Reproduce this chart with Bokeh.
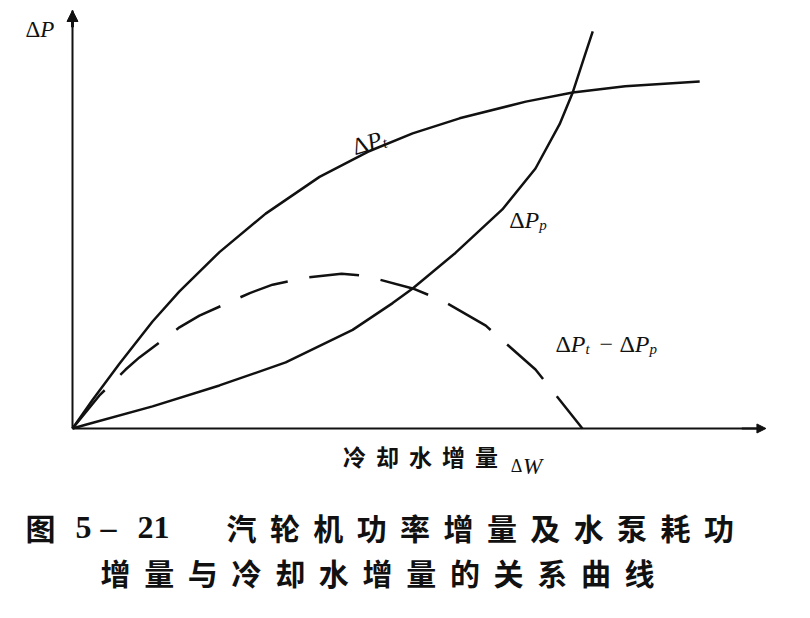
import math

from bokeh.plotting import figure
from bokeh.models import Range1d, Label, Arrow, NormalHead
from bokeh.embed import file_html
from bokeh.resources import INLINE

# values (arbitrary units, both axes drawn 0..10)
PT_W = [0, 0.29, 0.68, 1.16, 1.55, 2.13, 2.80, 3.58, 4.28, 4.93, 5.61, 6.57, 7.25, 8.01, 9.09]
PT_P = [0, 0.68, 1.55, 2.56, 3.28, 4.22, 5.14, 6.02, 6.62, 7.06, 7.42, 7.82, 8.04, 8.19, 8.30]

PP_W = [0, 0.19, 1.16, 2.13, 3.09, 4.06, 4.64, 4.93, 5.55, 6.23, 6.71, 7.06, 7.25, 7.43, 7.54]
PP_P = [0, 0.09, 0.53, 1.03, 1.58, 2.36, 3.00, 3.35, 4.20, 5.24, 6.22, 7.28, 8.04, 8.95, 9.50]

DIFF_W = [0, 0.39, 0.77, 0.97, 1.55, 1.84, 2.57, 2.90, 3.38, 3.90, 4.25, 4.93, 5.36, 5.99, 6.71, 7.39]
DIFF_P = [0, 0.79, 1.41, 1.70, 2.42, 2.70, 3.24, 3.44, 3.61, 3.70, 3.65, 3.35, 3.06, 2.46, 1.41, 0]

X_NAME = "冷却水增量"
FIG_NO = [("图", "cjk"), ("5", "serif"), ("–", "serif"), ("21", "serif")]
CAPTION_1 = "汽轮机功率增量及水泵耗功"
CAPTION_2 = "增量与冷却水增量的关系曲线"

INK = "#111111"
SERIF = "Liberation Serif"
CJK = "Noto Sans CJK SC"


def add_text(p, x, y, text, size, font=SERIF, style="normal", dx=0.0, dy=0.0,
             angle=0.0, align="left", baseline="alphabetic"):
    c, s = math.cos(angle), math.sin(angle)
    p.add_layout(Label(
        x=x, y=y, text=text,
        x_offset=dx * c - dy * s, y_offset=dx * s + dy * c, angle=angle,
        text_font=font, text_font_size=f"{size}px", text_font_style=style,
        text_color=INK, text_align=align, text_baseline=baseline,
    ))


def delta_p(p, x, y, sub, size=24, angle=0.0, dx0=0.0):
    # "ΔP" with a small subscript, glyph by glyph
    add_text(p, x, y, "Δ", size, dx=dx0, angle=angle)
    add_text(p, x, y, "P", size, style="italic", dx=dx0 + 0.64 * size, angle=angle)
    if sub:
        add_text(p, x, y, sub, int(size * 0.66), style="italic",
                 dx=dx0 + 1.25 * size, dy=-5, angle=angle)


# the frame fills the whole canvas; the axes sit at 0 and run 0..10
p = figure(
    width=794, height=602,
    x_range=Range1d(-1.0435, 10.464), y_range=Range1d(-4.163, 10.239),
    output_backend="svg", toolbar_location=None, min_border=0,
    background_fill_color="white", border_fill_color="white", outline_line_color=None,
)
p.grid.visible = False
p.xaxis.ticker = []
p.yaxis.ticker = []
p.axis.fixed_location = 0
p.xaxis.bounds = (0, 10)
p.yaxis.bounds = (0, 10)
p.axis.axis_line_width = 2
p.axis.axis_line_color = INK
p.axis.major_tick_line_color = None
p.axis.minor_tick_line_color = None
p.axis.major_tick_out = 0
p.axis.major_tick_in = 0
p.axis.major_label_standoff = 0

# arrow tips at the ends of both axes
p.add_layout(Arrow(end=NormalHead(size=11, fill_color=INK, line_color=INK),
                   x_start=0, y_start=9.6, x_end=0, y_end=10.0,
                   line_width=3, line_color=INK))
p.add_layout(Arrow(end=NormalHead(size=9, fill_color=INK, line_color=INK),
                   x_start=9.7, y_start=0, x_end=10.05, y_end=0,
                   line_width=2, line_color=INK))

p.line(PT_W, PT_P, line_color=INK, line_width=2.5)
p.line(PP_W, PP_P, line_color=INK, line_width=2.5)
p.line(DIFF_W, DIFF_P, line_color=INK, line_width=2.5, line_dash="50 22")

# curve names
delta_p(p, -0.68, 9.55, "", size=23)
delta_p(p, 4.06, 6.72, "t", angle=0.3)
delta_p(p, 6.33, 4.98, "p")
delta_p(p, 7.00, 2.01, "t")
add_text(p, 7.00, 2.01, "−", 24, dx=44)
delta_p(p, 7.00, 2.01, "p", dx0=64)

# x-axis name
for k, ch in enumerate(X_NAME):
    add_text(p, 4.087 + 0.478 * k, -0.67, ch, 23, font=CJK, style="bold",
             align="center", baseline="middle")
add_text(p, 6.35, -0.90, "Δ", 18)
add_text(p, 6.53, -0.90, "W", 23, style="italic")

# caption
fig_x = [-0.464, 0.159, 0.522, 1.174]
for (txt, kind), x in zip(FIG_NO, fig_x):
    if kind == "cjk":
        add_text(p, x, -2.36, txt, 30, font=CJK, style="bold", align="center", baseline="middle")
    else:
        add_text(p, x, -2.36, txt, 32, style="bold", align="center", baseline="middle")
for k, ch in enumerate(CAPTION_1):
    add_text(p, 2.449 + 0.629 * k, -2.36, ch, 30, font=CJK, style="bold",
             align="center", baseline="middle")
for k, ch in enumerate(CAPTION_2):
    add_text(p, 0.623 + 0.633 * k, -3.43, ch, 30, font=CJK, style="bold",
             align="center", baseline="middle")

open("out.html", "w").write(file_html(p, INLINE))
